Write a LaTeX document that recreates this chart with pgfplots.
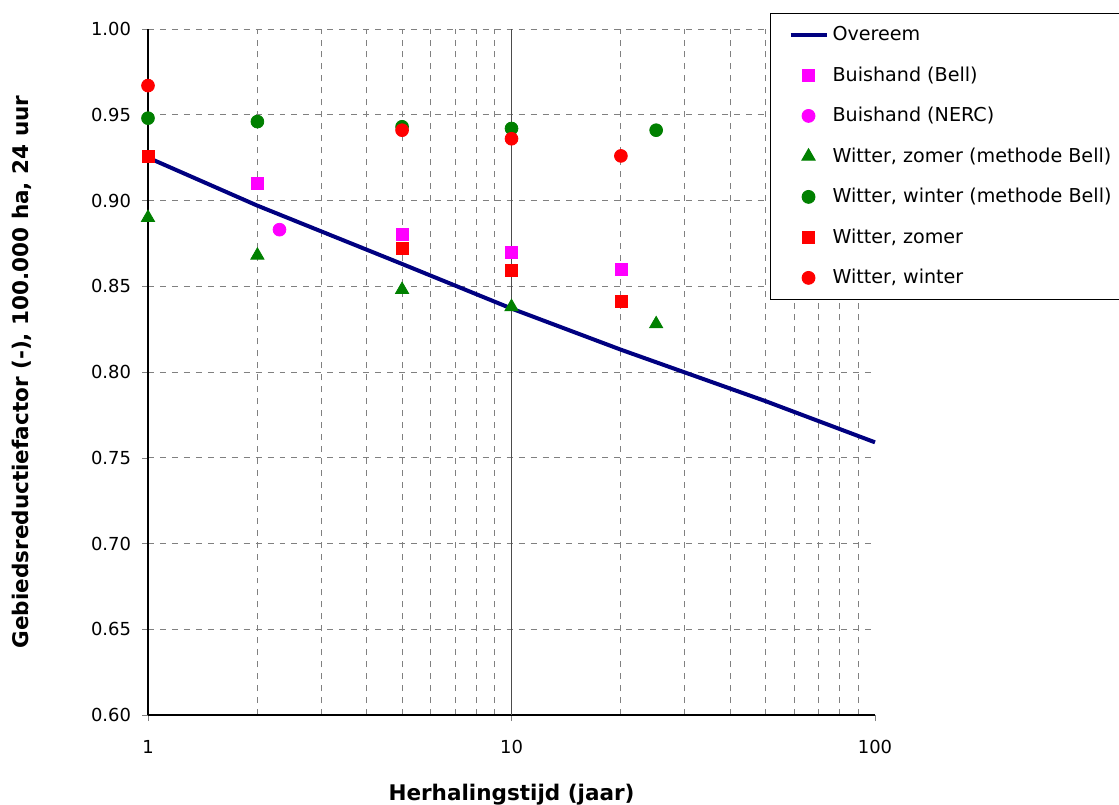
\documentclass[border=0pt]{standalone}
\usepackage{pgfplots}
\pgfplotsset{compat=1.18}
\usepackage{fontspec}
\setmainfont{DejaVu Sans}
\definecolor{navy}{RGB}{0,0,128}
\definecolor{mag}{RGB}{255,0,255}
\definecolor{grn}{RGB}{0,128,0}
\definecolor{rd}{RGB}{255,0,0}
\pgfplotsset{
  mylegmark/.style={legend image code/.code={\draw[##1, mark repeat=2, mark phase=2] plot coordinates {(0bp,0bp) (9bp,0bp) (18bp,0bp)};}},
  myleglne/.style={legend image code/.code={\draw[##1] (0bp,0bp) -- (18bp,0bp);}},
}
\begin{document}
\begin{tikzpicture}
\path[use as bounding box] (-74bp,-45bp) rectangle (485.5bp,357.5bp);
\begin{axis}[
  at={(0,0)}, anchor=south west,
  scale only axis, width=363.5bp, height=343bp,
  xmode=log, xmin=1, xmax=100, ymin=0.6, ymax=1.0,
  log ticks with fixed point,
  xtick={1,10,100}, xticklabels={1,10,100},
  minor xtick={2,3,4,5,6,7,8,9,20,30,40,50,60,70,80,90},
  ytick={0.60,0.65,0.70,0.75,0.80,0.85,0.90,0.95,1.00},
  yticklabel style={xshift=-2bp, /pgf/number format/.cd, fixed, fixed zerofill, precision=2},
  /pgf/number format/assume math mode=true,
  tick label style={font=\fontsize{9}{11}\selectfont},
  tick align=outside, major tick length=3bp, minor tick length=0pt,
  xminorgrids, ymajorgrids,
  minor grid style={dashed, gray, line width=0.5pt},
  major grid style={dashed, gray, line width=0.5pt},
  extra x ticks={10}, extra x tick labels={},
  extra x tick style={grid=major, major grid style={solid, black!70, line width=0.5pt}, major tick length=0pt},
  axis x line*=bottom, axis y line*=left,
  axis line style={-, line width=0.8pt},
  xticklabel style={yshift=-6bp},
  xlabel={\bfseries Herhalingstijd (jaar)},
  ylabel={\bfseries Gebiedsreductiefactor (-), 100.000 ha, 24 uur},
  label style={font=\fontsize{10.8}{12}\selectfont\bfseries},
  xlabel style={at={(axis description cs:0.5,0)}, anchor=center, yshift=-40bp},
  ylabel style={at={(axis description cs:0,0.5)}, anchor=center, yshift=63bp},
  legend style={at={(axis description cs:0.8556,1.0233)}, anchor=north west,
    draw=black, line width=0.5pt, font=\fontsize{9.6}{11.5}\selectfont,
    row sep=7.5bp, inner xsep=9bp, inner ysep=4.5bp,
    cells={anchor=west}},
  legend cell align=left,
  mylegmark,
  clip=false,
]
\addplot[navy, line width=2bp, no marks, myleglne] coordinates {
  (1,0.925) (2,0.897) (5,0.863) (10,0.837) (20,0.813) (50,0.783) (100,0.759)};
\addlegendentry{Overeem}
\addplot[only marks, mark=square*, mark size=3bp, mag, mark options={fill=mag, draw=mag}] coordinates {
  (2,0.910) (5,0.880) (10,0.870) (20,0.860)};
\addlegendentry{Buishand (Bell)}
\addplot[only marks, mark=*, mark size=3.2bp, mag, mark options={fill=mag, draw=mag}] coordinates {
  (2.3,0.883)};
\addlegendentry{Buishand (NERC)}
\addplot[only marks, mark=triangle*, mark size=3.8bp, grn, mark options={fill=grn, draw=grn}] coordinates {
  (1,0.890) (2,0.868) (5,0.848) (10,0.838) (25,0.828)};
\addlegendentry{Witter, zomer (methode Bell)}
\addplot[only marks, mark=*, mark size=3.2bp, grn, mark options={fill=grn, draw=grn}] coordinates {
  (1,0.948) (2,0.946) (5,0.943) (10,0.942) (25,0.941)};
\addlegendentry{Witter, winter (methode Bell)}
\addplot[only marks, mark=square*, mark size=3bp, rd, mark options={fill=rd, draw=rd}] coordinates {
  (1,0.926) (5,0.872) (10,0.859) (20,0.841)};
\addlegendentry{Witter, zomer}
\addplot[only marks, mark=*, mark size=3.2bp, rd, mark options={fill=rd, draw=rd}] coordinates {
  (1,0.967) (5,0.941) (10,0.936) (20,0.926)};
\addlegendentry{Witter, winter}
\end{axis}
\end{tikzpicture}
\end{document}
